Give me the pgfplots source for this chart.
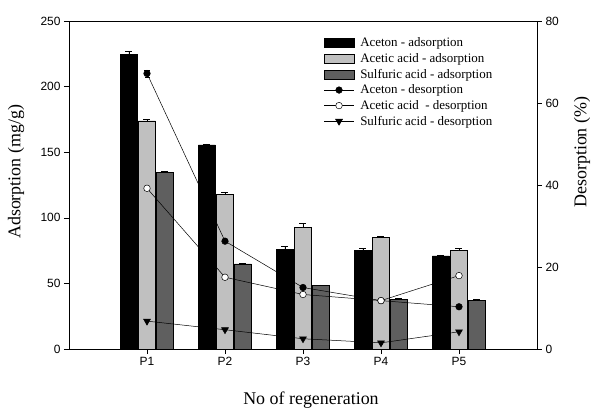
\documentclass[border=0pt]{standalone}
\usepackage{fontspec}
\setmainfont{Liberation Serif}
\setsansfont{Liberation Sans}
\usepackage{pgfplots}
\pgfplotsset{compat=1.18}
\definecolor{lightbar}{HTML}{C0C0C0}
\definecolor{darkbar}{HTML}{5F5F5F}
\pgfplotsset{
  barlegend/.style={legend image code/.code={\draw[##1] (0bp,-4.5bp) rectangle (30bp,4.5bp);}},
  linelegend/.style={legend image code/.code={\draw[mark repeat=2,mark phase=2,##1] plot coordinates {(0bp,0bp) (15bp,0bp) (30bp,0bp)};}},
  common/.style={
    at={(0,0)}, anchor=south west,
    width=468bp, height=328bp, scale only axis,
    xmin=0, xmax=6,
    tick align=outside, major tick length=5bp,
    axis line style={line width=0.6pt},
    every tick/.style={black, line width=0.6pt},
    /pgf/number format/assume math mode=true,
    ticklabel style={font=\sffamily\fontsize{12}{14}\selectfont},
    label style={font=\fontsize{18}{20}\selectfont},
  }
}
\begin{document}
\begin{tikzpicture}
\useasboundingbox (-69bp,-61bp) rectangle (522bp,349bp);
\begin{axis}[common,
  ymin=0, ymax=250,
  xtick={1,2,3,4,5}, xticklabels={P1,P2,P3,P4,P5},
  ytick={0,50,100,150,200,250},
  ytick pos=left, xtick pos=bottom,
  ybar, bar width=17bp,
  ylabel={Adsorption (mg/g)},
  ylabel style={at={(axis description cs:0,0.54)}, anchor=center, yshift=53bp},
  xlabel={No of regeneration},
  xlabel style={at={(axis description cs:0.5,0)}, anchor=center, yshift=-51bp, xshift=8bp},
  error bars/y dir=plus, error bars/y explicit,
  error bars/error bar style={line width=0.6pt},
  error bars/error mark options={rotate=90, mark size=3.5bp, line width=0.6pt},
]
\addplot[fill=black, draw=black, bar shift=-18bp] coordinates {
 (1,224.6) +- (0,2) (2,155.5) +- (0,0.8) (3,76) +- (0,2) (4,75.2) +- (0,1.3) (5,70.9) +- (0,0.8)};
\addplot[fill=lightbar, draw=black, bar shift=0bp] coordinates {
 (1,174) +- (0,0.8) (2,118) +- (0,1.5) (3,92.5) +- (0,3.5) (4,85.1) +- (0,0.5) (5,75) +- (0,1.5)};
\addplot[fill=darkbar, draw=black, bar shift=18bp] coordinates {
 (1,134.9) +- (0,0.6) (2,64.8) +- (0,0.7) (3,48.3) +- (0,0.5) (4,38.1) +- (0,0.5) (5,37.1) +- (0,0.5)};
\end{axis}
\begin{axis}[common,
  ymin=0, ymax=80,
  axis x line=none, axis y line*=right,
  ytick={0,20,40,60,80},
  ylabel={Desorption (\%)},
  ylabel style={at={(axis description cs:1,0.6)}, anchor=center, yshift=-45bp},
  legend style={at={(axis description cs:0.544,0.952)}, anchor=north west,
    draw=none, fill=none, inner sep=0pt, row sep=3.1bp,
    font=\fontsize{13}{15}\selectfont,
    nodes={inner sep=1pt},
    /tikz/every odd column/.append style={column sep=5bp}},
  legend cell align=left,
]
\addlegendimage{barlegend, fill=black, draw=black}
\addlegendentry{Aceton - adsorption}
\addlegendimage{barlegend, fill=lightbar, draw=black}
\addlegendentry{Acetic acid - adsorption}
\addlegendimage{barlegend, fill=darkbar, draw=black}
\addlegendentry{Sulfuric acid - adsorption}
\addplot[linelegend, black, line width=0.5pt, mark=*, mark size=3.3bp, mark options={fill=black},
  error bars/.cd, y dir=both, y explicit, error bar style={line width=0.5pt}, error mark options={rotate=90, mark size=2.5bp}] coordinates {
 (1,67.2) +- (0,0.8) (2,26.3) +- (0,0) (3,15) +- (0,0) (4,11.8) +- (0,0) (5,10.3) +- (0,0)};
\addlegendentry{Aceton - desorption}
\addplot[linelegend, black, line width=0.5pt, mark=*, mark size=3.3bp, mark options={fill=white}] coordinates {
 (1,39.2) (2,17.5) (3,13.3) (4,11.8) (5,17.9)};
\addlegendentry{Acetic acid\ \ - desorption}
\addplot[linelegend, black, line width=0.5pt, mark=triangle*, mark size=4bp, mark options={fill=black, rotate=180}] coordinates {
 (1,6.8) (2,4.7) (3,2.5) (4,1.5) (5,4.2)};
\addlegendentry{Sulfuric acid - desorption}
\end{axis}
\end{tikzpicture}
\end{document}
